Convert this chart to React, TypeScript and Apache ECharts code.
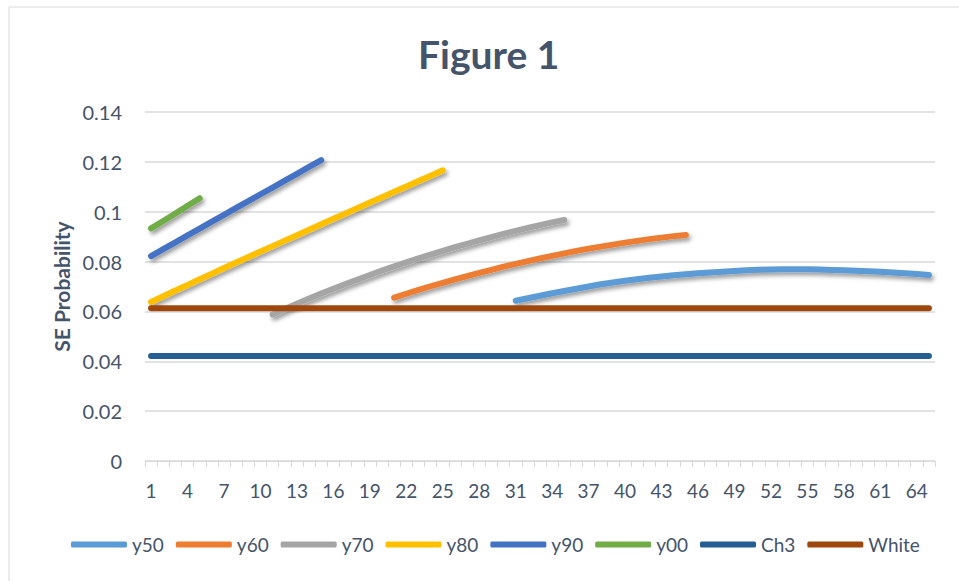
import React, { useEffect, useRef } from "react";
import * as echarts from "echarts";

// Category axis: periods 1..65
const categories: string[] = Array.from({ length: 65 }, (_, i) => String(i + 1));

// Each curve starts at a given period and runs for as many periods as it has values
const y50Start = 31;
const y50: number[] = [
  0.0643, 0.0653, 0.0663, 0.0673, 0.0682, 0.0691, 0.07, 0.0709, 0.0716, 0.0723,
  0.0729, 0.0735, 0.074, 0.0745, 0.0749, 0.0753, 0.0756, 0.0759, 0.0762, 0.0765,
  0.0767, 0.0768, 0.0769, 0.0769, 0.0769, 0.0768, 0.0766, 0.0765, 0.0763, 0.0761,
  0.0759, 0.0756, 0.0753, 0.075, 0.0746,
];

const y60Start = 21;
const y60: number[] = [
  0.0655, 0.0671, 0.0686, 0.0701, 0.0715, 0.0729, 0.0742, 0.0755, 0.0767, 0.078,
  0.0791, 0.0802, 0.0813, 0.0823, 0.0833, 0.0843, 0.0852, 0.086, 0.0868, 0.0876,
  0.0883, 0.089, 0.0896, 0.0902, 0.0907,
];

const y70Start = 11;
const y70: number[] = [
  0.0588, 0.061, 0.0631, 0.0652, 0.0672, 0.0691, 0.071, 0.0728, 0.0746, 0.0764,
  0.0781, 0.0797, 0.0813, 0.0828, 0.0843, 0.0858, 0.0871, 0.0885, 0.0898, 0.0911,
  0.0923, 0.0935, 0.0946, 0.0957, 0.0967,
];

const y80Start = 1;
const y80: number[] = [
  0.0638, 0.0661, 0.0684, 0.0706, 0.0729, 0.0751, 0.0774, 0.0796, 0.0818, 0.084,
  0.0862, 0.0884, 0.0906, 0.0928, 0.095, 0.0972, 0.0993, 0.1015, 0.1037, 0.1058,
  0.108, 0.1101, 0.1123, 0.1144, 0.1166,
];

const y90Start = 1;
const y90: number[] = [
  0.0822, 0.085, 0.0877, 0.0905, 0.0932, 0.096, 0.0987, 0.1015, 0.1042, 0.107,
  0.1097, 0.1125, 0.1152, 0.118, 0.1207,
];

const y00Start = 1;
const y00: number[] = [0.0933, 0.0963, 0.0993, 0.1024, 0.1054];

// Flat reference levels across all periods
const ch3Level = 0.0421;
const whiteLevel = 0.0613;

const yTicks = { min: 0, max: 0.14, interval: 0.02 };

const seriesColors: Record<string, string> = {
  y50: "#5B9BD5",
  y60: "#ED7D31",
  y70: "#A5A5A5",
  y80: "#FFC000",
  y90: "#4472C4",
  y00: "#70AD47",
  Ch3: "#255E91",
  White: "#9E480E",
};

const TEXT = "#44546A";
const GRID = "#D9D9D9";
const FONT = "Lato, 'Noto Sans', sans-serif";

function place(start: number, values: number[]): (number | null)[] {
  const out: (number | null)[] = categories.map(() => null);
  values.forEach((v, i) => {
    out[start - 1 + i] = v;
  });
  return out;
}

export default function App() {
  const ref = useRef<HTMLDivElement>(null);

  useEffect(() => {
    if (!ref.current) return;
    const chart = echarts.init(ref.current, undefined, { renderer: "svg" });

    // A drop shadow filter collapses on a perfectly flat path (zero-height
    // bounding box), so the level lines are drawn without one.
    const lineSeries = (name: string, data: (number | null)[], shadow = true) => ({
      name,
      type: "line",
      data,
      showSymbol: false,
      symbol: "none",
      smooth: false,
      connectNulls: false,
      itemStyle: { color: seriesColors[name] },
      lineStyle: {
        color: seriesColors[name],
        width: 6,
        cap: "round",
        join: "round",
        ...(shadow
          ? {
              shadowColor: "rgba(0,0,0,0.4)",
              shadowBlur: 4,
              shadowOffsetX: 2,
              shadowOffsetY: 3,
            }
          : {}),
      },
      emphasis: { disabled: true },
    });

    chart.setOption({
      animation: false,
      backgroundColor: "#ffffff",
      textStyle: { fontFamily: FONT },
      title: {
        text: "Figure 1",
        left: 413,
        top: 29,
        textStyle: {
          fontFamily: FONT,
          fontSize: 39,
          fontWeight: "bold",
          color: TEXT,
        },
      },
      graphic: [
        {
          type: "rect",
          shape: { x: 9, y: 7, width: 1000, height: 1000 },
          style: { fill: "none", stroke: GRID, lineWidth: 1 },
          silent: true,
        },
      ],
      legend: {
        bottom: 22,
        left: 66,
        icon: "roundRect",
        itemWidth: 56,
        itemHeight: 6,
        itemGap: 12,
        textStyle: { fontFamily: FONT, fontSize: 19, color: TEXT },
        data: Object.keys(seriesColors),
      },
      grid: { left: 145, right: 24, top: 112, bottom: 120 },
      xAxis: {
        type: "category",
        data: categories,
        boundaryGap: true,
        axisLine: { show: true, lineStyle: { color: GRID, width: 1 } },
        axisTick: {
          show: true,
          interval: 0,
          length: 6,
          lineStyle: { color: GRID },
        },
        axisLabel: {
          interval: 2,
          margin: 20,
          fontFamily: FONT,
          fontSize: 19,
          color: TEXT,
        },
        splitLine: { show: false },
      },
      yAxis: {
        type: "value",
        min: yTicks.min,
        max: yTicks.max,
        interval: yTicks.interval,
        name: "SE Probability",
        nameLocation: "middle",
        nameGap: 73,
        nameRotate: 90,
        nameTextStyle: {
          fontFamily: FONT,
          fontSize: 21,
          fontWeight: "bold",
          color: TEXT,
        },
        axisLine: { show: false },
        axisTick: { show: false },
        axisLabel: { margin: 23, fontFamily: FONT, fontSize: 20, color: TEXT },
        splitLine: { show: true, lineStyle: { color: GRID, width: 1.5 } },
      },
      series: [
        lineSeries("y50", place(y50Start, y50)),
        lineSeries("y60", place(y60Start, y60)),
        lineSeries("y70", place(y70Start, y70)),
        lineSeries("y80", place(y80Start, y80)),
        lineSeries("y90", place(y90Start, y90)),
        lineSeries("y00", place(y00Start, y00)),
        lineSeries("Ch3", categories.map(() => ch3Level), false),
        lineSeries("White", categories.map(() => whiteLevel), false),
      ],
    });

    return () => {
      chart.dispose();
    };
  }, []);

  return (
    <div
      ref={ref}
      style={{
        position: "absolute",
        left: 0,
        top: 0,
        width: 959,
        height: 581,
        background: "#ffffff",
      }}
    />
  );
}
